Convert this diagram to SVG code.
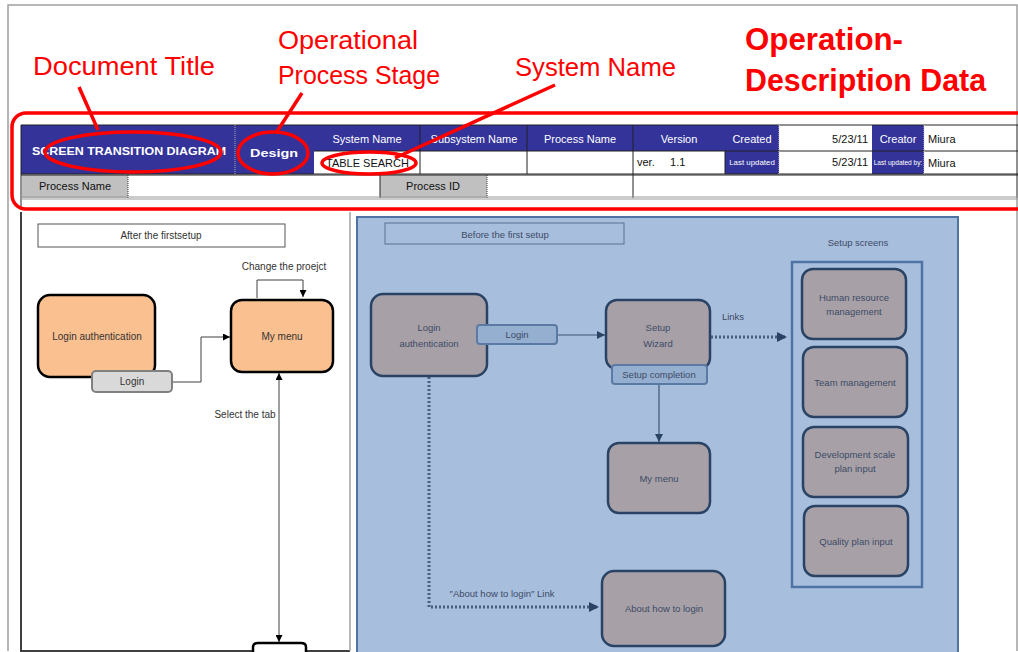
<svg xmlns="http://www.w3.org/2000/svg" width="1018" height="652" viewBox="0 0 1018 652">
<defs>
<style>
.red{fill:#ff0000;font-family:"Liberation Sans",Arial,sans-serif}
.hw{fill:#ffffff;font-family:"Liberation Sans",Arial,sans-serif;font-size:11px}
.hb{fill:#111;font-family:"Liberation Sans",Arial,sans-serif;font-size:11px}
.blue{fill:#333399}
.gcell{fill:#c0c0c0}
.lt{fill:#333;font-family:"Liberation Sans",Arial,sans-serif;font-size:10px}
.rt{fill:#3e4a66;font-family:"Liberation Sans",Arial,sans-serif;font-size:9.5px}
.onode{fill:#fac090;stroke:#000;stroke-width:2.5}
.gnode{fill:#a7a1a7;stroke:#2a4365;stroke-width:2.5}
.rtag{fill:#95afd0;stroke:#5b7aa3;stroke-width:2}
.conn{fill:none;stroke:#404040;stroke-width:1}
.rconn{fill:none;stroke:#3d5577;stroke-width:1.2}
.dot{fill:none;stroke:#4a5f80;stroke-width:3;stroke-dasharray:2 2}
</style>
<marker id="ab" viewBox="0 0 10 10" refX="10" refY="5" markerWidth="7" markerHeight="7" orient="auto-start-reverse"><path d="M0,0 L10,5 L0,10 z" fill="#000"/></marker>
<marker id="abr" viewBox="0 0 10 10" refX="10" refY="5" markerWidth="7" markerHeight="7" orient="auto-start-reverse"><path d="M0,0 L10,5 L0,10 z" fill="#2a4365"/></marker>
<marker id="abd" viewBox="0 0 10 10" refX="10" refY="5" markerWidth="3.5" markerHeight="3.5" orient="auto"><path d="M0,0 L10,5 L0,10 z" fill="#2a4365"/></marker>
</defs>
<rect width="1018" height="652" fill="#ffffff"/>
<path d="M8,651 V5 H1017 V651" fill="none" stroke="#a0a0a0" stroke-width="1.5"/>

<g id="annotations">
<text class="red" x="33" y="75" font-size="26" textLength="182" lengthAdjust="spacingAndGlyphs">Document Title</text>
<text class="red" x="278" y="49" font-size="26" textLength="140" lengthAdjust="spacingAndGlyphs">Operational</text>
<text class="red" x="278" y="84" font-size="26" textLength="162" lengthAdjust="spacingAndGlyphs">Process Stage</text>
<text class="red" x="515" y="76" font-size="26" textLength="161" lengthAdjust="spacingAndGlyphs">System Name</text>
<text class="red" x="745" y="50" font-size="32" font-weight="bold" textLength="158" lengthAdjust="spacingAndGlyphs">Operation-</text>
<text class="red" x="745" y="91" font-size="32" font-weight="bold" textLength="241" lengthAdjust="spacingAndGlyphs">Description Data</text>
</g>

<g id="header-table">
<rect x="21" y="125" width="997" height="73" fill="#fff"/>
<rect class="blue" x="21" y="125" width="293" height="49"/>
<rect class="blue" x="314" y="125" width="465" height="26"/>
<rect class="blue" x="725" y="151" width="54" height="23"/>
<rect fill="#fff" x="779" y="125" width="93" height="26"/>
<rect class="blue" x="872" y="125" width="52" height="49"/>
<rect class="gcell" x="22" y="175" width="106" height="23"/>
<rect class="gcell" x="380" y="175" width="107" height="23"/>
<g stroke="#222" stroke-width="1" fill="none">
<path d="M21,125 H1018 M21,125 V209 M314,151 H1018 M21,174 H1018 M21,175 H1018"/>
<path d="M420,125 V174 M527,125 V174 M633,125 V198 M725,151 V174 M1017,125 V198 M380,174 V198"/>
</g>
<g stroke="#777" stroke-width="1" fill="none">
<path d="M235,125 V174" stroke-dasharray="1 1" stroke="#aaa"/>
<path d="M128,175 V198 M487,175 V198" stroke-dasharray="1 1" stroke="#333"/>
<path d="M779,125 V174 M924,125 V174" stroke-dasharray="1 1" stroke="#ccc"/>
<path d="M21,197 H1018 M21,199 H1018" stroke="#999"/>
</g>
<text class="hw" x="129" y="155" text-anchor="middle" font-weight="bold" font-size="11.5" textLength="194" lengthAdjust="spacingAndGlyphs">SCREEN TRANSITION DIAGRAM</text>
<text class="hw" x="274" y="157" text-anchor="middle" font-weight="bold" font-size="15" font-family="'DejaVu Sans Mono',monospace" textLength="48" lengthAdjust="spacingAndGlyphs">Design</text>
<text class="hw" x="367" y="143" text-anchor="middle">System Name</text>
<text class="hw" x="474" y="143" text-anchor="middle">Subsystem Name</text>
<text class="hw" x="580" y="143" text-anchor="middle">Process Name</text>
<text class="hw" x="679" y="143" text-anchor="middle">Version</text>
<text class="hw" x="752" y="143" text-anchor="middle">Created</text>
<text class="hb" x="868" y="143" text-anchor="end">5/23/11</text>
<text class="hw" x="898" y="143" text-anchor="middle">Creator</text>
<text class="hb" x="928" y="143">Miura</text>
<text class="hb" x="326" y="167" font-size="10.5">TABLE SEARCH</text>
<text class="hb" x="637" y="166" font-size="10" xml:space="preserve">ver.     1.1</text>
<text class="hw" transform="translate(752,165) scale(0.72,0.6)" x="0" y="0" text-anchor="middle">Last updated</text>
<text class="hb" x="868" y="166" text-anchor="end">5/23/11</text>
<text class="hw" transform="translate(898,165) scale(0.6,0.58)" x="0" y="0" text-anchor="middle">Last updated by:</text>
<text class="hb" x="928" y="167">Miura</text>
<text class="hb" x="75" y="190" text-anchor="middle">Process Name</text>
<text class="hb" x="433" y="190" text-anchor="middle">Process ID</text>
</g>

<g id="highlights" fill="none" stroke="#ff0000" stroke-width="3.5">
<rect x="12" y="113" width="1030" height="96" rx="14"/>
<ellipse cx="133" cy="152" rx="88" ry="20"/>
<ellipse cx="273" cy="153" rx="35" ry="21"/>
<ellipse cx="369" cy="163" rx="47" ry="11"/>
<path d="M79,87 L98,130"/>
<path d="M302,93 L276,133"/>
<path d="M555,85 L395,158"/>
</g>

<g id="left-panel">
<path d="M21,212 V651 H350" fill="none" stroke="#404040" stroke-width="2"/>
<path d="M350,212 V651" fill="none" stroke="#a0a0a0" stroke-width="1.5"/>
<rect x="38" y="224" width="247" height="23" fill="#fff" stroke="#555" stroke-width="1"/>
<text class="lt" x="161" y="239" text-anchor="middle" font-size="9.5">After the firstsetup</text>
</g>

<g id="right-panel">
<rect x="357" y="217" width="601" height="440" fill="#a7bfdd" stroke="#4f73a3" stroke-width="2"/>
<rect x="385" y="223" width="239" height="21" fill="none" stroke="#5a7090" stroke-width="1"/>
<text class="rt" x="505" y="238" text-anchor="middle">Before the first setup</text>
<text class="rt" x="858" y="246" text-anchor="middle">Setup screens</text>
<text class="rt" x="733" y="320" text-anchor="middle">Links</text>
<text class="rt" x="502" y="597" text-anchor="middle">″About how to login″ Link</text>
</g>

<g id="connectors">
<path class="conn" d="M257,298 V280 H303 V297" marker-end="url(#ab)"/>
<path class="conn" d="M172,382 H201 V337 H230" marker-end="url(#ab)"/>
<path class="conn" d="M279,373 V642" marker-start="url(#ab)" marker-end="url(#ab)" stroke="#666"/>
<path class="rconn" d="M558,335 H605" marker-end="url(#abr)"/>
<path class="rconn" d="M659,385 V442" marker-end="url(#abr)"/>
<path class="dot" d="M711,337 H787" marker-end="url(#abd)"/>
<path class="dot" d="M429,377 V607 H599" marker-end="url(#abd)"/>
</g>

<g id="left-labels">
<text class="lt" x="284" y="270" text-anchor="middle" font-size="9.5">Change the proejct</text>
<text class="lt" x="245" y="418" text-anchor="middle" font-size="9">Select the tab</text>
</g>

<g id="l-login-auth">
<rect class="onode" x="38" y="295" width="117" height="82" rx="12"/>
<text class="lt" x="97" y="340" text-anchor="middle" font-size="10.5">Login authentication</text>
</g>
<g id="l-login-tag">
<rect x="92" y="371" width="80" height="21" rx="4" fill="#d9d9d9" stroke="#808080" stroke-width="2"/>
<text class="lt" x="132" y="385" text-anchor="middle">Login</text>
</g>
<g id="l-my-menu">
<rect class="onode" x="231" y="300" width="102" height="72" rx="11"/>
<text class="lt" x="282" y="340" text-anchor="middle">My menu</text>
</g>
<g id="l-bottom-node">
<path d="M253,652 V647 Q253,643 258,643 H301 Q306,643 306,647 V652" fill="#fff" stroke="#000" stroke-width="2.5"/>
</g>

<g id="r-login-auth">
<rect class="gnode" x="371" y="294" width="116" height="82" rx="12"/>
<text class="rt" x="429" y="331" text-anchor="middle" font-size="10">Login</text>
<text class="rt" x="429" y="347" text-anchor="middle" font-size="10">authentication</text>
</g>
<g id="r-login-tag">
<rect class="rtag" x="477" y="325" width="80" height="19" rx="3"/>
<text class="rt" x="517" y="338" text-anchor="middle">Login</text>
</g>
<g id="r-setup-wizard">
<rect class="gnode" x="606" y="300" width="104" height="69" rx="11"/>
<text class="rt" x="658" y="331" text-anchor="middle" font-size="10">Setup</text>
<text class="rt" x="658" y="347" text-anchor="middle" font-size="10">Wizard</text>
</g>
<g id="r-setup-completion">
<rect class="rtag" x="612" y="365" width="95" height="19" rx="3"/>
<text class="rt" x="659" y="378" text-anchor="middle">Setup completion</text>
</g>
<g id="r-my-menu">
<rect class="gnode" x="608" y="443" width="102" height="70" rx="11"/>
<text class="rt" x="659" y="482" text-anchor="middle">My menu</text>
</g>
<g id="r-about-login">
<rect class="gnode" x="602" y="571" width="123" height="75" rx="12"/>
<text class="rt" x="664" y="612" text-anchor="middle">About how to login</text>
</g>
<g id="setup-screens">
<rect x="792" y="262" width="130" height="325" fill="none" stroke="#4f73a3" stroke-width="2.5"/>
</g>
<g id="s-human-resource">
<rect class="gnode" x="802" y="269" width="104" height="70" rx="11"/>
<text class="rt" x="854" y="301" text-anchor="middle" font-size="9">Human resource</text>
<text class="rt" x="854" y="315" text-anchor="middle" font-size="9">management</text>
</g>
<g id="s-team">
<rect class="gnode" x="803" y="347" width="104" height="70" rx="11"/>
<text class="rt" x="855" y="386" text-anchor="middle" font-size="9">Team management</text>
</g>
<g id="s-dev-scale">
<rect class="gnode" x="803" y="427" width="105" height="70" rx="11"/>
<text class="rt" x="855" y="458" text-anchor="middle" font-size="9">Development scale</text>
<text class="rt" x="855" y="472" text-anchor="middle" font-size="9">plan input</text>
</g>
<g id="s-quality">
<rect class="gnode" x="804" y="506" width="104" height="70" rx="11"/>
<text class="rt" x="856" y="545" text-anchor="middle" font-size="9">Quality plan input</text>
</g>
</svg>
